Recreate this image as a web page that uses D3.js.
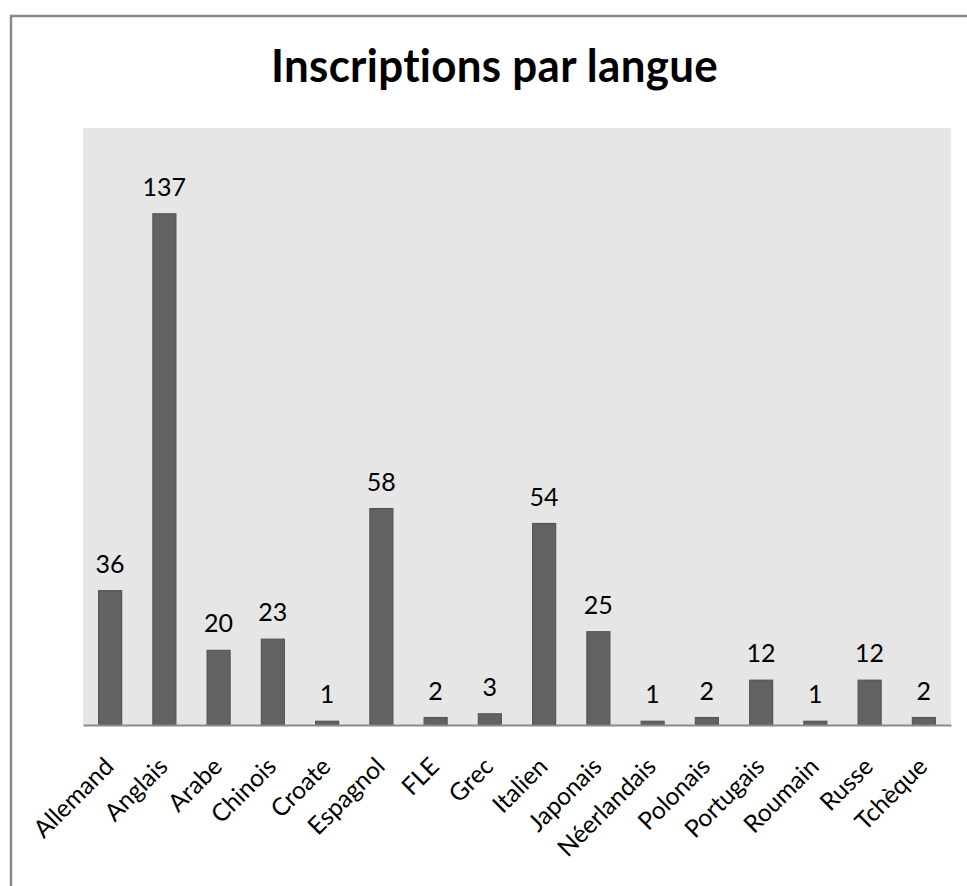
<!DOCTYPE html>
<html><head><meta charset="utf-8">
<script src="https://cdn.jsdelivr.net/npm/d3@7/dist/d3.min.js"></script>
<style>body{margin:0;background:#fff}svg{display:block}text{font-variant-ligatures:none;font-feature-settings:"liga" 0}</style>
</head><body>
<svg id="chart" width="967" height="886"></svg>
<script>
const title = "Inscriptions par langue";
const categories = ["Allemand","Anglais","Arabe","Chinois","Croate","Espagnol","FLE","Grec","Italien","Japonais","Néerlandais","Polonais","Portugais","Roumain","Russe","Tchèque"];
const values = [36,137,20,23,1,58,2,3,54,25,1,2,12,1,12,2];
const yDomain = [0,160];

const svg = d3.select("#chart");
const font = "Lato, 'Open Sans', 'Noto Sans', sans-serif";
const plot = {left:83, right:951, top:128, bottom:725};

svg.append("rect").attr("x",11).attr("y",16).attr("width",1100).attr("height",1100)
  .attr("fill","#fff").attr("stroke","#888").attr("stroke-width",2.5);

const t = svg.append("text").attr("x",494.5).attr("y",82).attr("text-anchor","middle")
  .attr("font-family",font).attr("font-weight","bold").attr("font-size",45).attr("fill","#000")
  .attr("letter-spacing","0.3px").style("letter-spacing","0.3px")
  .text(title);
t.attr("textLength",447).attr("lengthAdjust","spacingAndGlyphs");

svg.append("rect").attr("x",plot.left).attr("y",plot.top)
  .attr("width",plot.right-plot.left).attr("height",plot.bottom-plot.top).attr("fill","#e6e6e6");

const x = d3.scaleBand().domain(categories).range([plot.left,plot.right]).paddingInner(0.576).paddingOuter(0.288);
const y = d3.scaleLinear().domain(yDomain).range([plot.bottom,plot.top]);

const data = categories.map((c,i)=>({c,v:values[i]}));

svg.append("g").selectAll("rect").data(data).join("rect")
  .attr("x",d=>x(d.c)).attr("y",d=>y(d.v))
  .attr("width",x.bandwidth()).attr("height",d=>y(0)-y(d.v))
  .attr("fill","#626262").attr("stroke","#555").attr("stroke-width",1.2);

svg.append("g").selectAll("text").data(data).join("text")
  .attr("x",d=>x(d.c)+x.bandwidth()/2).attr("y",d=>y(d.v)-18)
  .attr("text-anchor","middle").attr("font-family",font).attr("font-size",25).attr("fill","#000")
  .text(d=>d.v);

const xAxis = d3.axisBottom(x).tickSize(0).tickPadding(0);
const ax = svg.append("g").attr("transform",`translate(0,${plot.bottom})`).call(xAxis);
ax.select(".domain").attr("stroke","#8a8a8a").attr("stroke-width",2);
ax.selectAll(".tick text")
  .attr("font-family",font).attr("font-size",24.5).attr("fill","#000")
  .attr("text-anchor","end").attr("dy",null).attr("y",null)
  .attr("transform","translate(5,43) rotate(-45)");
</script>
</body></html>
